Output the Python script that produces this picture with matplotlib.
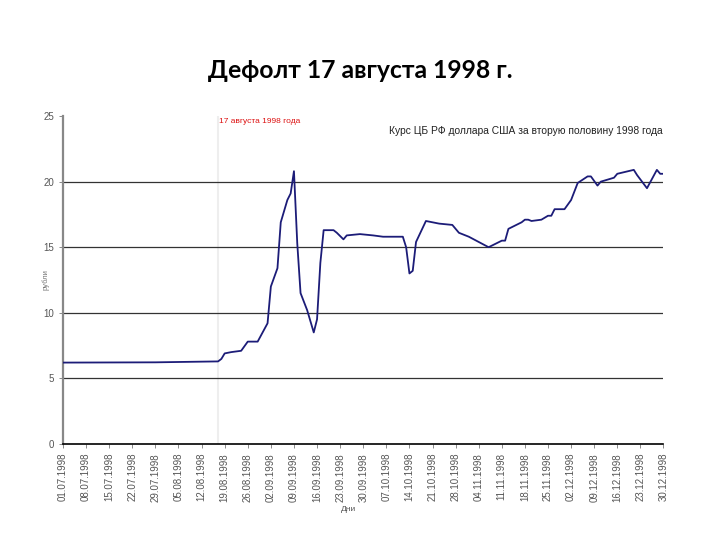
import numpy as np
import matplotlib
matplotlib.use("Agg")
import matplotlib.pyplot as plt

# ---- data ----
dates = ["1998-07-01", "1998-07-29", "1998-08-17", "1998-08-18", "1998-08-19",
         "1998-08-21", "1998-08-24", "1998-08-26", "1998-08-29", "1998-09-01",
         "1998-09-02", "1998-09-04", "1998-09-05", "1998-09-07", "1998-09-08",
         "1998-09-09", "1998-09-10", "1998-09-11", "1998-09-13", "1998-09-15",
         "1998-09-16", "1998-09-17", "1998-09-18", "1998-09-21", "1998-09-22",
         "1998-09-24", "1998-09-25", "1998-09-29", "1998-10-03", "1998-10-06",
         "1998-10-12", "1998-10-13", "1998-10-14", "1998-10-15", "1998-10-16",
         "1998-10-19", "1998-10-23", "1998-10-27", "1998-10-29", "1998-11-01",
         "1998-11-07", "1998-11-11", "1998-11-12", "1998-11-13", "1998-11-17",
         "1998-11-18", "1998-11-19", "1998-11-20", "1998-11-23", "1998-11-25",
         "1998-11-26", "1998-11-27", "1998-11-30", "1998-12-02", "1998-12-04",
         "1998-12-07", "1998-12-08", "1998-12-10", "1998-12-11", "1998-12-15",
         "1998-12-16", "1998-12-21", "1998-12-22", "1998-12-25", "1998-12-28",
         "1998-12-29", "1998-12-30"]
rates = [6.20, 6.22, 6.29, 6.48, 6.90,
         7.00, 7.10, 7.80, 7.80, 9.20,
         12.0, 13.4, 16.9, 18.6, 19.1,
         20.8, 15.3, 11.5, 10.2, 8.5,
         9.5, 13.8, 16.3, 16.3, 16.1,
         15.6, 15.9, 16.0, 15.9, 15.8,
         15.8, 15.0, 13.0, 13.2, 15.4,
         17.0, 16.8, 16.7, 16.1, 15.8,
         15.0, 15.5, 15.5, 16.4, 16.9,
         17.1, 17.1, 17.0, 17.1, 17.4,
         17.4, 17.9, 17.9, 18.6, 19.9,
         20.4, 20.4, 19.7, 20.0, 20.3,
         20.6, 20.9, 20.5, 19.5, 20.9,
         20.6, 20.6]
tick_labels = ["01.07.1998", "08.07.1998", "15.07.1998", "22.07.1998", "29.07.1998",
               "05.08.1998", "12.08.1998", "19.08.1998", "26.08.1998", "02.09.1998",
               "09.09.1998", "16.09.1998", "23.09.1998", "30.09.1998", "07.10.1998",
               "14.10.1998", "21.10.1998", "28.10.1998", "04.11.1998", "11.11.1998",
               "18.11.1998", "25.11.1998", "02.12.1998", "09.12.1998", "16.12.1998",
               "23.12.1998", "30.12.1998"]
yticks = [0, 5, 10, 15, 20, 25]
default_date = "1998-08-17"

start = np.datetime64("1998-07-01")
x = (np.array(dates, dtype="datetime64[D]") - start).astype(int)
tick_pos = [(np.datetime64("%s-%s-%s" % (t[6:], t[3:5], t[0:2])) - start).astype(int)
            for t in tick_labels]
x_default = (np.datetime64(default_date) - start).astype(int)

plt.rcParams['font.family'] = ['Liberation Sans', 'DejaVu Sans']

fig = plt.figure(figsize=(7.2, 5.4), dpi=100)
fig.text(0.5, 0.87, "Дефолт 17 августа 1998 г.", ha="center", va="center",
         fontsize=17.8, fontweight="bold", family=["Lato", "DejaVu Sans"])

ax = fig.add_axes([0.0875, 0.178, 0.834, 0.607])
ax.set_xlim(0, 182)
ax.set_ylim(0, 25)

for yv in yticks[1:-1]:
    ax.axhline(yv, color="#333333", lw=0.9, zorder=1)
ax.axvline(x_default, color="#eeeeee", lw=1.5, zorder=0)

ax.plot(x, rates, color="#1c1c78", lw=1.3, zorder=3)

for s in ["top", "right"]:
    ax.spines[s].set_visible(False)
ax.spines["left"].set_color("#888888")
ax.spines["left"].set_linewidth(1.6)
ax.spines["bottom"].set_color("#000000")
ax.spines["bottom"].set_linewidth(1.2)

ax.set_yticks(yticks)
ax.set_yticklabels([str(v) for v in yticks], fontsize=7, color="#555555")
ax.set_xticks(tick_pos)
ax.set_xticklabels(tick_labels, rotation=90, fontsize=7, color="#555555")
ax.tick_params(axis="both", length=3, width=0.6, colors="#777777", labelcolor="#555555")

ax.set_xlabel("Дни", fontsize=6, color="#555555", labelpad=4)
ax.xaxis.set_label_coords(0.475, -0.19)
ax.set_ylabel("рубли", fontsize=5.5, color="#777777", labelpad=4)
ax.yaxis.set_label_coords(-0.022, 0.5)

ax.text(x_default + 0.3, 24.6, "17 августа 1998 года", color="#dd1111",
        fontsize=6.0, ha="left", va="center")
ax.text(0.998, 0.955, "Курс ЦБ РФ доллара США за вторую половину 1998 года",
        transform=ax.transAxes, ha="right", va="center", fontsize=7.4, color="#222222")

fig.savefig("out.png", dpi=100)
